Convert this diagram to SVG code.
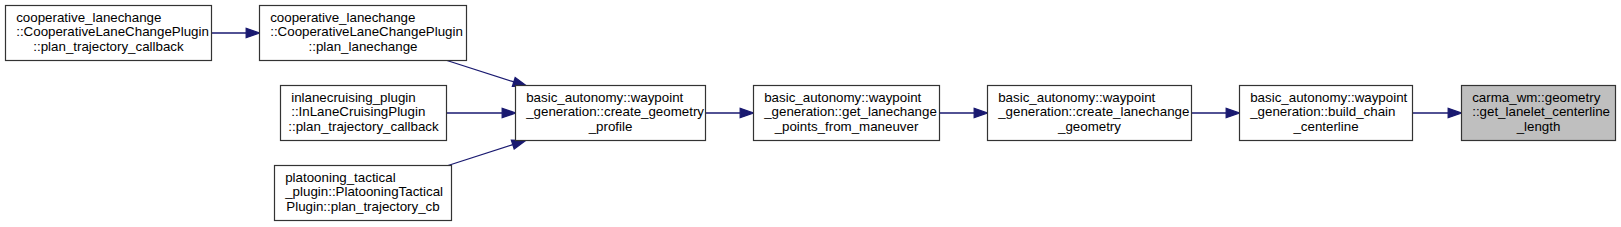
<svg xmlns="http://www.w3.org/2000/svg" width="1621" height="227" viewBox="0 0 1621 227">
<style>
.n rect{fill:#fff;stroke:#333;stroke-width:1.2}
.n.cur rect{fill:#bfbfbf}
.n text{font-family:"Liberation Sans",Arial,sans-serif;font-size:13.33px;fill:#000}
.c{text-anchor:middle}
#edges path{fill:none;stroke:#191970;stroke-width:1.3}
#edges polygon{fill:#191970;stroke:#191970;stroke-width:1.3}
</style>
<rect width="1621" height="227" fill="#fff"/>
<g id="edges">
<path d="M211.5,33H246.2"/><polygon points="246.2,28.3 259.5,33 246.2,37.7"/>
<path d="M447,60.5L513.8,81.9"/><polygon points="512.4,86.4 526.5,86 515.2,77.5"/>
<path d="M446.5,113H502.2"/><polygon points="502.2,108.3 515.5,113 502.2,117.7"/>
<path d="M448,165.5L512.8,144.6"/><polygon points="514.2,149 525.5,140.5 511.4,140.1"/>
<path d="M705.5,113H740.2"/><polygon points="740.2,108.3 753.5,113 740.2,117.7"/>
<path d="M939.5,113H974.2"/><polygon points="974.2,108.3 987.5,113 974.2,117.7"/>
<path d="M1191.5,113H1226.2"/><polygon points="1226.2,108.3 1239.5,113 1226.2,117.7"/>
<path d="M1412.5,113H1448.2"/><polygon points="1448.2,108.3 1461.5,113 1448.2,117.7"/>
</g>
<g id="nodeA" class="n">
<rect x="5.5" y="5.5" width="206" height="55"/>
<text x="16.2" y="21.5">cooperative_lanechange</text>
<text x="16.2" y="36.2">::CooperativeLaneChangePlugin</text>
<text x="108.5" y="50.8" class="c">::plan_trajectory_callback</text>
</g>
<g id="nodeB" class="n">
<rect x="259.5" y="5.5" width="207" height="55"/>
<text x="270.2" y="21.5">cooperative_lanechange</text>
<text x="270.2" y="36.2">::CooperativeLaneChangePlugin</text>
<text x="363" y="50.8" class="c">::plan_lanechange</text>
</g>
<g id="nodeC" class="n">
<rect x="280.5" y="85.5" width="166" height="55"/>
<text x="291.2" y="101.5">inlanecruising_plugin</text>
<text x="291.2" y="116.2">::InLaneCruisingPlugin</text>
<text x="363.5" y="130.8" class="c">::plan_trajectory_callback</text>
</g>
<g id="nodeD" class="n">
<rect x="274.5" y="165.5" width="177" height="55"/>
<text x="285.2" y="181.5">platooning_tactical</text>
<text x="285.2" y="196.2">_plugin::PlatooningTactical</text>
<text x="363" y="210.8" class="c">Plugin::plan_trajectory_cb</text>
</g>
<g id="nodeE" class="n">
<rect x="515.5" y="85.5" width="190" height="55"/>
<text x="526.2" y="101.5">basic_autonomy::waypoint</text>
<text x="526.2" y="116.2">_generation::create_geometry</text>
<text x="610.5" y="130.8" class="c">_profile</text>
</g>
<g id="nodeF" class="n">
<rect x="753.5" y="85.5" width="186" height="55"/>
<text x="764.2" y="101.5">basic_autonomy::waypoint</text>
<text x="764.2" y="116.2">_generation::get_lanechange</text>
<text x="846.5" y="130.8" class="c">_points_from_maneuver</text>
</g>
<g id="nodeG" class="n">
<rect x="987.5" y="85.5" width="204" height="55"/>
<text x="998.2" y="101.5">basic_autonomy::waypoint</text>
<text x="998.2" y="116.2">_generation::create_lanechange</text>
<text x="1089.5" y="130.8" class="c">_geometry</text>
</g>
<g id="nodeH" class="n">
<rect x="1239.5" y="85.5" width="173" height="55"/>
<text x="1250.2" y="101.5">basic_autonomy::waypoint</text>
<text x="1250.2" y="116.2">_generation::build_chain</text>
<text x="1326" y="130.8" class="c">_centerline</text>
</g>
<g id="nodeI" class="n cur">
<rect x="1461.5" y="85.5" width="154" height="55"/>
<text x="1472.2" y="101.5">carma_wm::geometry</text>
<text x="1472.2" y="116.2">::get_lanelet_centerline</text>
<text x="1538.5" y="130.8" class="c">_length</text>
</g>
</svg>
